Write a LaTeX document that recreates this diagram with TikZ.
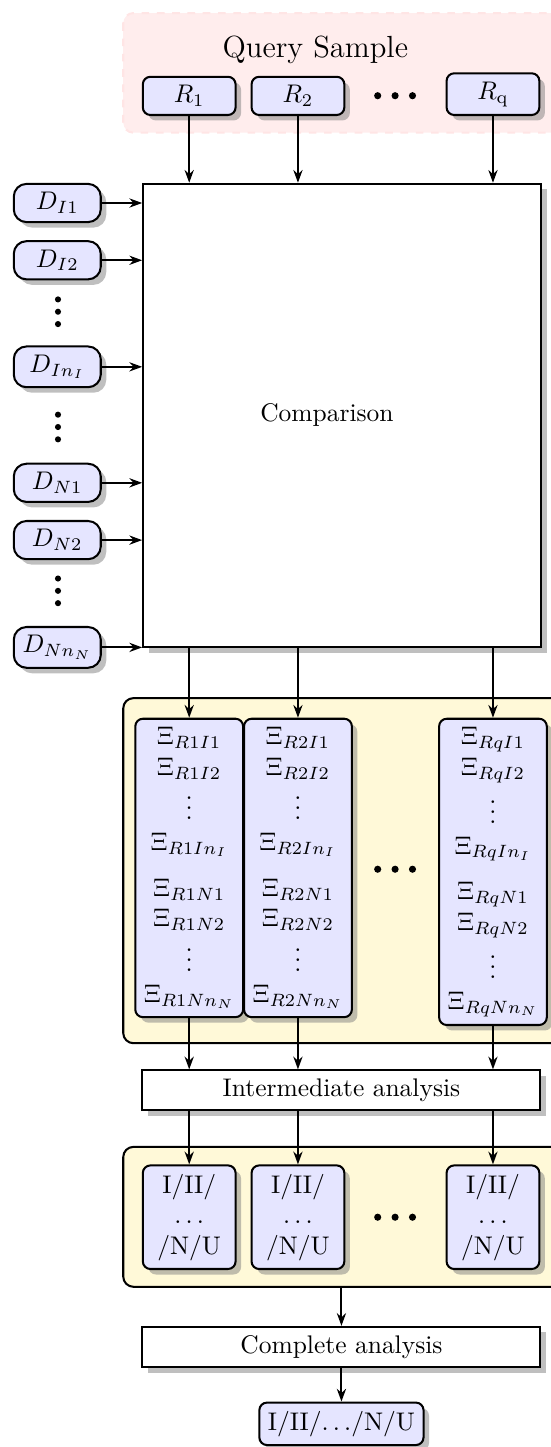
\documentclass[tikz,border=0pt]{standalone}
\usepackage{amsmath,amssymb}
\usepackage{tikz}
\usetikzlibrary{arrows.meta,positioning,calc,shadows}
\definecolor{panelyellow}{RGB}{255,249,216}

\newcommand{\xicol}[1]{$\Xi_{R#1I1}$\\$\Xi_{R#1I2}$\\$\vdots$\\$\Xi_{R#1In_I}$\\[6pt]%
  $\Xi_{R#1N1}$\\$\Xi_{R#1N2}$\\$\vdots$\\$\Xi_{R#1Nn_N}$}

\begin{document}
\begin{tikzpicture}[>={Stealth[length=5pt,width=3.6pt]},thick,
   rbox/.style={draw,fill=blue!10,rounded corners=3pt,drop shadow,minimum width=1.28cm,minimum height=0.51cm},
   dbox/.style={draw,fill=blue!10,rounded corners=5pt,drop shadow,minimum width=1.20cm,minimum height=0.52cm},
   colbox/.style={draw,fill=blue!10,rounded corners=3pt,drop shadow,minimum width=1.28cm,minimum height=4.11cm,align=center,anchor=north},
   resbox/.style={draw,fill=blue!10,rounded corners=3pt,drop shadow,minimum width=1.28cm,minimum height=1.38cm,align=center},
   stage/.style={draw,fill=white,drop shadow,minimum width=5.49cm,minimum height=0.52cm},
   panel/.style={draw,fill=panelyellow,rounded corners=4pt}]
  \useasboundingbox (0,0) rectangle (7.59,-19.96);
  % query sample band, running off the right edge
  \fill[red!7,rounded corners] (1.70,-0.18) rectangle (8.3,-1.83);
  \draw[dashed,red!10,rounded corners] (1.70,-0.18) rectangle (8.3,-1.83);
  \node[font=\large] (qs) at (4.35,-0.69) {Query Sample};
  \node[rbox,anchor=south] (r1) at (2.61,-1.60) {$R_1$};
  \node[rbox,anchor=south] (r2) at (4.11,-1.60) {$R_2$};
  \node[rbox,anchor=south] (rq) at (6.80,-1.60) {$R_{\mathrm{q}}$};
  \coordinate (rdots) at (5.45,-1.32);
  % comparison block fed by the database entries
  \node[draw,fill=white,drop shadow,minimum width=5.49cm,minimum height=6.39cm,
        label={[xshift=-0.21cm]center:Comparison}] (cmp) at (4.72,-5.73) {};
  \node[dbox] (di1) at (0.79,-2.80) {$D_{I1}$};
  \node[dbox] (di2) at (0.79,-3.59) {$D_{I2}$};
  \node[dbox] (din) at (0.79,-5.06) {$D_{In_I}$};
  \node[dbox] (dn1) at (0.79,-6.66) {$D_{N1}$};
  \node[dbox] (dn2) at (0.79,-7.45) {$D_{N2}$};
  \node[dbox] (dnn) at (0.79,-8.93) {$D_{Nn_N}$};
  \coordinate (gapa) at (0.80,-4.30);
  \coordinate (gapb) at (0.80,-5.89);
  \coordinate (gapc) at (0.80,-8.15);
  \foreach \r in {r1,r2,rq} \draw[->] (\r.south) -- (\r.south |- cmp.north);
  \foreach \d in {di1,di2,din,dn1,dn2,dnn} \draw[->] (\d.east) -- (\d.east -| cmp.west);
  % per-sample similarity columns
  \draw[panel] (1.70,-9.63) rectangle (8.3,-14.39);
  \node[colbox] (x1) at (2.61,-9.90) {\xicol{1}};
  \node[colbox] (x2) at (4.11,-9.90) {\xicol{2}};
  \node[colbox] (xq) at (6.80,-9.90) {\xicol{q}};
  \coordinate (xdots) at (5.45,-11.99);
  \foreach \x in {x1,x2,xq} \draw[->] (\x.north |- cmp.south) -- (\x.north);
  \node[stage] (inter) at (4.71,-15.04) {Intermediate analysis};
  \foreach \x in {x1,x2,xq} \draw[->] (\x.south) -- (\x.south |- inter.north);
  % per-sample verdicts
  \draw[panel] (1.70,-15.82) rectangle (8.3,-17.75);
  \coordinate (pan2s) at (4.71,-17.75);
  \node[resbox] (s1) at (2.61,-16.79) {I/II/\\$\ldots$\\/N/U};
  \node[resbox] (s2) at (4.11,-16.79) {I/II/\\$\ldots$\\/N/U};
  \node[resbox] (sq) at (6.80,-16.79) {I/II/\\$\ldots$\\/N/U};
  \coordinate (sdots) at (5.45,-16.79);
  \foreach \s in {s1,s2,sq} \draw[->] (\s.north |- inter.south) -- (\s.north);
  \node[stage] (comp) at (4.71,-18.58) {Complete analysis};
  \draw[->] (pan2s) -- (comp.north);
  \node[rbox,minimum height=0.55cm] (fin) at (4.71,-19.64) {I/II/$\ldots$/N/U};
  \draw[->] (comp.south) -- (fin.north);
  % gap dots
  \foreach \c in {rdots,xdots,sdots} \foreach \k in {-1,0,1} \fill ($(\c)+(\k*0.24,0)$) circle (1.4pt);
  \foreach \c in {gapa,gapb,gapc} \foreach \k in {-1,0,1} \fill ($(\c)+(0,\k*0.17)$) circle (1.2pt);
\end{tikzpicture}
\end{document}
